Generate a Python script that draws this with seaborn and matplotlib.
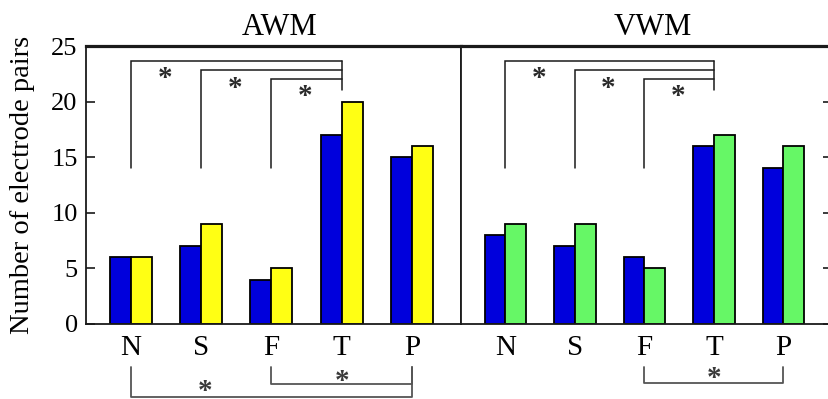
import matplotlib
matplotlib.use("Agg")
import matplotlib.pyplot as plt
import pandas as pd
import seaborn as sns

# Electrode-pair counts per region
regions = ["N", "S", "F", "T", "P"]
awm_blue = [6, 7, 4, 17, 15]
awm_yellow = [6, 9, 5, 20, 16]
vwm_blue = [8, 7, 6, 16, 14]
vwm_green = [9, 9, 5, 17, 16]
yticks = [0, 5, 10, 15, 20, 25]

# Significant comparisons (drawn as brackets with a star)
top_pairs = [("N", "T"), ("S", "T"), ("F", "T")]
awm_bottom_pairs = [("N", "P"), ("F", "P")]
vwm_bottom_pairs = [("F", "P")]

sns.set_style("ticks")
plt.rcParams["font.family"] = ["Liberation Serif", "DejaVu Serif"]
for key in ["text.color", "axes.labelcolor", "xtick.color", "ytick.color"]:
    plt.rcParams[key] = "black"

BLUE = "#0000dc"
YELLOW = "#ffff14"
GREEN = "#66f766"
LINE = "#1a1a1a"
GREY = "#555555"
STAR_FS = 21

W, H = 829, 399
fig = plt.figure(figsize=(W / 100, H / 100), dpi=100)
ax1 = fig.add_axes([86 / W, 75 / H, 375 / W, 278 / H])
ax2 = fig.add_axes([461 / W, 75 / H, 371 / W, 278 / H])


def star(ax, x, y, color):
    ax.annotate("*", (x, y), xytext=(0, -0.42 * STAR_FS), textcoords="offset points",
                ha="center", va="baseline", fontsize=STAR_FS, color=color,
                fontweight="bold", annotation_clip=False)


def panel(ax, first, second, colour, title, bottom_pairs):
    df = pd.DataFrame({
        "region": regions * 2,
        "count": first + second,
        "series": ["first"] * len(regions) + ["second"] * len(regions),
    })
    sns.barplot(data=df, x="region", y="count", hue="series", order=regions,
                palette=[BLUE, colour], width=0.6, saturation=1,
                edgecolor="black", linewidth=1.3, legend=False, ax=ax)
    ax.set_xlim(-0.64, 4.70)
    ax.set_ylim(0, 25)
    ax.set_yticks(yticks)
    ax.set_xlabel("")
    ax.set_ylabel("")
    ax.set_title(title, fontsize=22, pad=8, x=0.517)
    ax.tick_params(axis="x", length=0, pad=8, labelsize=21)
    for side in ["left", "right", "bottom"]:
        ax.spines[side].set_linewidth(1.3)
        ax.spines[side].set_color(LINE)
    ax.spines["top"].set_linewidth(2.3)
    ax.spines["top"].set_color(LINE)

    idx = {r: i for i, r in enumerate(regions)}
    # brackets above the bars
    levels = [23.65, 22.8, 22.0]
    for (a, b), lev in zip(top_pairs, levels):
        xa, xb = idx[a], idx[b]
        ax.plot([xa, xa, xb], [14, lev, lev], color=LINE, lw=1.1, solid_joinstyle="miter")
        star(ax, xa + 0.48, lev - 1.15, "#2a2a2a")
    xt = idx["T"]
    ax.plot([xt, xt], [levels[0], 21.0], color=LINE, lw=1.1)

    # brackets below the axis
    for (a, b), lev, sx, sy in bottom_pairs:
        xa, xb = idx[a], idx[b]
        ax.plot([xa, xa, xb, xb], [-3.87, lev, lev, -3.87], color=GREY, lw=1.3,
                clip_on=False)
        star(ax, sx, sy, "#3a3a3a")


panel(ax1, awm_blue, awm_yellow, YELLOW, "AWM",
      [(awm_bottom_pairs[0], -6.56, 1.05, -5.6),
       (awm_bottom_pairs[1], -5.4, 3.0, -4.75)])
panel(ax2, vwm_blue, vwm_green, GREEN, "VWM",
      [(vwm_bottom_pairs[0], -5.3, 3.0, -4.45)])

ax1.tick_params(axis="y", direction="in", length=6.5, width=1.2, left=True, right=False,
                labelsize=19, pad=6, color=LINE)
ax1.set_ylabel("Number of electrode pairs", fontsize=20.5, labelpad=12)

ax2.tick_params(axis="y", direction="in", length=6.5, width=1.2, left=False, right=True,
                labelleft=False, labelright=False, color=LINE)

fig.savefig("out.png", dpi=100)
